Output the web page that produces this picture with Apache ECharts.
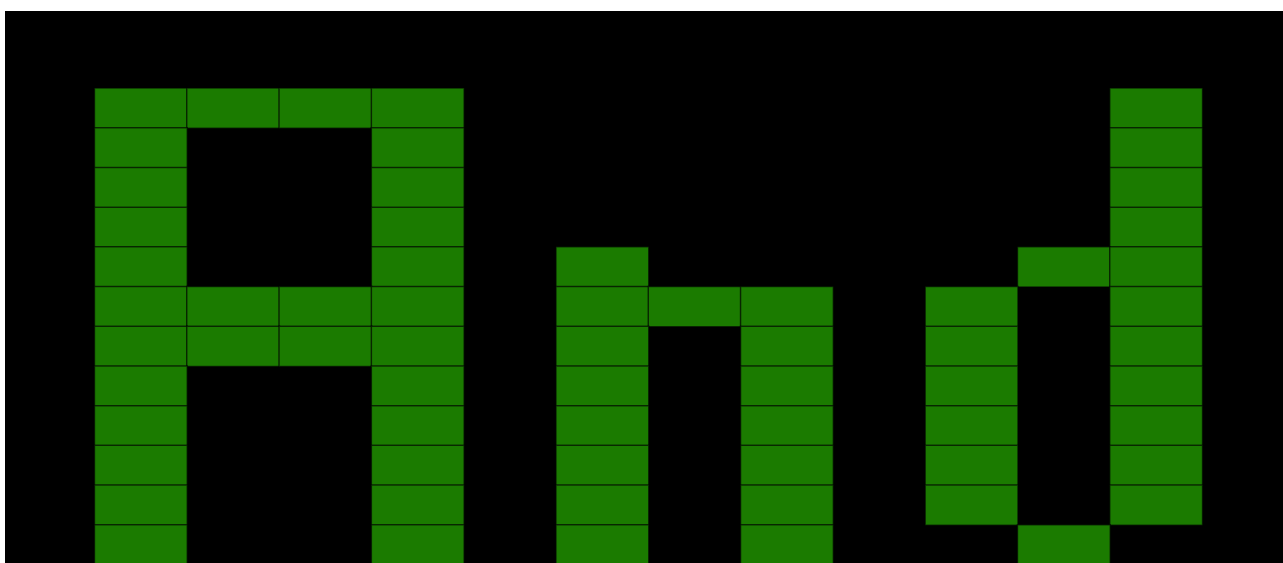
<!DOCTYPE html>
<html>
<head>
<meta charset="utf-8">
<script src="https://cdn.jsdelivr.net/npm/echarts@6/dist/echarts.min.js"></script>
<style>
  html, body { margin: 0; padding: 0; background: #fff; overflow: hidden; }
  #chart { position: absolute; left: 5px; top: 11px; width: 1290px; height: 600px; }
</style>
</head>
<body>
<div id="chart"></div>
<script>
// Column and row categories of the pixel grid
const columns = ['0','1','2','3','4','5','6','7','8','9','10','11'];
const rows = ['0','1','2','3','4','5','6','7','8','9','10','11'];

// Lit cells per letter as [column, row]
const letterA = [
  [0,0],[1,0],[2,0],[3,0],
  [0,1],[3,1],[0,2],[3,2],[0,3],[3,3],[0,4],[3,4],
  [0,5],[1,5],[2,5],[3,5],
  [0,6],[1,6],[2,6],[3,6],
  [0,7],[3,7],[0,8],[3,8],[0,9],[3,9],[0,10],[3,10],[0,11],[3,11]
];
const letterN = [
  [5,4],
  [5,5],[6,5],[7,5],
  [5,6],[7,6],[5,7],[7,7],[5,8],[7,8],[5,9],[7,9],[5,10],[7,10],[5,11],[7,11]
];
const letterD = [
  [11,0],[11,1],[11,2],[11,3],
  [10,4],[11,4],
  [9,5],[11,5],[9,6],[11,6],[9,7],[11,7],[9,8],[11,8],[9,9],[11,9],[9,10],[11,10],
  [10,11]
];

const cells = letterA.concat(letterN, letterD).map(c => [c[0], c[1], 1]);

const chart = echarts.init(document.getElementById('chart'));
chart.setOption({
  backgroundColor: '#000000',
  animation: false,
  grid: { left: 89.7, top: 77.3, width: 1107.6, height: 476.4 },
  xAxis: {
    type: 'category', data: columns,
    axisLine: { show: false }, axisTick: { show: false },
    axisLabel: { show: false }, splitLine: { show: false }
  },
  yAxis: {
    type: 'category', data: rows, inverse: true,
    axisLine: { show: false }, axisTick: { show: false },
    axisLabel: { show: false }, splitLine: { show: false }
  },
  visualMap: {
    show: false, min: 0, max: 1, dimension: 2,
    inRange: { color: ['#1b7b00', '#1b7b00'] }
  },
  series: [{
    type: 'heatmap',
    data: cells,
    itemStyle: { borderColor: 'rgba(0,0,0,0.6)', borderWidth: 1.5 },
    emphasis: { disabled: true }
  }]
});
</script>
</body>
</html>
